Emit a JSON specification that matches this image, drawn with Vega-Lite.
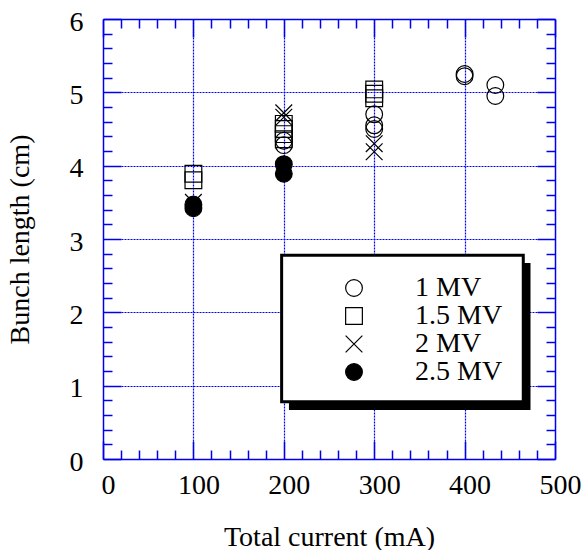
{
  "$schema": "https://vega.github.io/schema/vega-lite/v6.json",
  "width": 452,
  "height": 440,
  "autosize": "none",
  "padding": {"left": 103, "top": 19, "right": 29, "bottom": 91},
  "background": "white",
  "config": {
    "view": {"stroke": null},
    "font": "Liberation Serif",
    "axis": {
      "labelFont": "Liberation Serif",
      "titleFont": "Liberation Serif",
      "labelFontSize": 28,
      "titleFontSize": 28,
      "labelColor": "black",
      "titleColor": "black",
      "titleFontWeight": "normal",
      "labelFlush": false,
      "labelOverlap": false,
      "domainColor": "#0000ee",
      "domainWidth": 1.5,
      "tickColor": "#0000ee",
      "tickWidth": 1.5,
      "gridColor": "#0000ff",
      "gridDash": [2, 1],
      "gridWidth": 1.2
    },
    "legend": {
      "orient": "none",
      "legendX": 237,
      "legendY": 255,
      "padding": 0,
      "labelFont": "Liberation Serif",
      "labelFontSize": 28,
      "labelColor": "black",
      "labelOffset": 47,
      "rowPadding": 0,
      "symbolSize": 280,
      "symbolStrokeColor": "black",
      "symbolStrokeWidth": 1.2
    }
  },
  "datasets": {
    "pts": [
      {"current": 200, "length": 4.34, "series": "1 MV"},
      {"current": 200, "length": 4.28, "series": "1 MV"},
      {"current": 300, "length": 4.70, "series": "1 MV"},
      {"current": 300, "length": 4.55, "series": "1 MV"},
      {"current": 300, "length": 4.50, "series": "1 MV"},
      {"current": 400, "length": 5.25, "series": "1 MV"},
      {"current": 400, "length": 5.22, "series": "1 MV"},
      {"current": 434, "length": 5.10, "series": "1 MV"},
      {"current": 434, "length": 4.95, "series": "1 MV"},
      {"current": 100, "length": 3.89, "series": "1.5 MV"},
      {"current": 100, "length": 3.80, "series": "1.5 MV"},
      {"current": 200, "length": 4.57, "series": "1.5 MV"},
      {"current": 200, "length": 4.50, "series": "1.5 MV"},
      {"current": 200, "length": 4.43, "series": "1.5 MV"},
      {"current": 200, "length": 4.36, "series": "1.5 MV"},
      {"current": 300, "length": 5.04, "series": "1.5 MV"},
      {"current": 300, "length": 4.98, "series": "1.5 MV"},
      {"current": 300, "length": 4.92, "series": "1.5 MV"},
      {"current": 100, "length": 3.50, "series": "2 MV"},
      {"current": 200, "length": 4.72, "series": "2 MV"},
      {"current": 200, "length": 4.66, "series": "2 MV"},
      {"current": 300, "length": 4.30, "series": "2 MV"},
      {"current": 300, "length": 4.19, "series": "2 MV"},
      {"current": 100, "length": 3.47, "series": "2.5 MV"},
      {"current": 100, "length": 3.42, "series": "2.5 MV"},
      {"current": 200, "length": 4.02, "series": "2.5 MV"},
      {"current": 200, "length": 3.89, "series": "2.5 MV"}
    ],
    "box": [
      {"part": "shadow", "x1": 205.7, "x2": 472.9, "y1": 2.673, "y2": 0.668},
      {"part": "box", "x1": 197.6, "x2": 464.9, "y1": 2.78, "y2": 0.78}
    ]
  },
  "resolve": {"axis": {"x": "independent", "y": "independent"}},
  "layer": [
    {
      "data": {"name": "pts"},
      "mark": {"type": "point", "opacity": 0},
      "encoding": {
        "x": {
          "field": "current", "type": "quantitative",
          "scale": {"domain": [0, 500], "nice": false, "zero": false},
          "axis": {
            "orient": "top",
            "values": [0,20,40,60,80,100,120,140,160,180,200,220,240,260,280,300,320,340,360,380,400,420,440,460,480,500],
            "labels": false,
            "grid": false,
            "title": null,
            "tickSize": {"condition": {"test": "datum.value % 100 === 0", "value": -18}, "value": -9}
          }
        },
        "y": {
          "field": "length", "type": "quantitative",
          "scale": {"domain": [0, 6], "nice": false, "zero": false},
          "axis": {
            "orient": "right",
            "values": [0,0.2,0.4,0.6,0.8,1,1.2,1.4,1.6,1.8,2,2.2,2.4,2.6,2.8,3,3.2,3.4,3.6,3.8,4,4.2,4.4,4.6,4.8,5,5.2,5.4,5.6,5.8,6],
            "labels": false,
            "grid": false,
            "title": null,
            "tickSize": {"condition": {"test": "abs(datum.value - round(datum.value)) < 0.001", "value": -18}, "value": -9}
          }
        }
      }
    },
    {
      "data": {"name": "pts"},
      "mark": {"type": "point", "size": 280, "strokeWidth": 1.2, "opacity": 1},
      "encoding": {
        "x": {
          "field": "current", "type": "quantitative",
          "axis": {
            "orient": "bottom",
            "values": [0,20,40,60,80,100,120,140,160,180,200,220,240,260,280,300,320,340,360,380,400,420,440,460,480,500],
            "labelExpr": "datum.value % 100 === 0 ? format(datum.value, 'd') : ''",
            "labelOffset": 5,
            "labelPadding": 30,
            "grid": true,
            "gridOpacity": {"condition": {"test": "datum.value % 100 === 0 && datum.value > 0 && datum.value < 500", "value": 1}, "value": 0},
            "title": "Total current (mA)",
            "titlePadding": 15,
            "tickSize": {"condition": {"test": "datum.value % 100 === 0", "value": -18}, "value": -9}
          }
        },
        "y": {
          "field": "length", "type": "quantitative",
          "axis": {
            "orient": "left",
            "values": [0,0.2,0.4,0.6,0.8,1,1.2,1.4,1.6,1.8,2,2.2,2.4,2.6,2.8,3,3.2,3.4,3.6,3.8,4,4.2,4.4,4.6,4.8,5,5.2,5.4,5.6,5.8,6],
            "labelExpr": "abs(datum.value - round(datum.value)) < 0.001 ? format(datum.value, 'd') : ''",
            "labelOffset": 3,
            "labelPadding": 38,
            "grid": true,
            "gridOpacity": {"condition": {"test": "abs(datum.value - round(datum.value)) < 0.001 && datum.value > 0.5 && datum.value < 5.5", "value": 1}, "value": 0},
            "title": "Bunch length (cm)",
            "titlePadding": 35,
            "tickSize": {"condition": {"test": "abs(datum.value - round(datum.value)) < 0.001", "value": -18}, "value": -9}
          }
        },
        "shape": {
          "field": "series", "type": "nominal",
          "scale": {"domain": ["1 MV", "1.5 MV", "2 MV", "2.5 MV"], "range": ["circle", "square", "M-1,-1L1,1M-1,1L1,-1", "circle"]},
          "legend": {"title": null}
        },
        "fill": {
          "field": "series", "type": "nominal",
          "scale": {"domain": ["1 MV", "1.5 MV", "2 MV", "2.5 MV"], "range": ["transparent", "transparent", "transparent", "black"]},
          "legend": {"title": null}
        },
        "stroke": {
          "field": "series", "type": "nominal",
          "scale": {"domain": ["1 MV", "1.5 MV", "2 MV", "2.5 MV"], "range": ["black", "black", "black", "black"]},
          "legend": {"title": null}
        }
      }
    },
    {
      "data": {"name": "box"},
      "transform": [{"filter": "datum.part === 'shadow'"}],
      "mark": {"type": "rect", "fill": "black"},
      "encoding": {
        "x": {"field": "x1", "type": "quantitative", "axis": null},
        "x2": {"field": "x2"},
        "y": {"field": "y1", "type": "quantitative", "axis": null},
        "y2": {"field": "y2"}
      }
    },
    {
      "data": {"name": "box"},
      "transform": [{"filter": "datum.part === 'box'"}],
      "mark": {"type": "rect", "fill": "white", "stroke": "black", "strokeWidth": 3},
      "encoding": {
        "x": {"field": "x1", "type": "quantitative", "axis": null},
        "x2": {"field": "x2"},
        "y": {"field": "y1", "type": "quantitative", "axis": null},
        "y2": {"field": "y2"}
      }
    }
  ]
}
